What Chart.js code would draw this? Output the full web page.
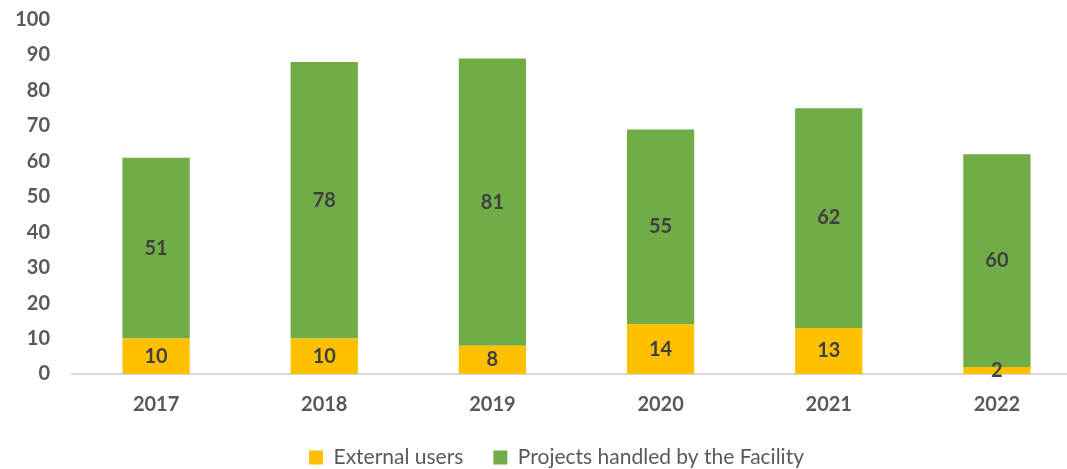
<!DOCTYPE html>
<html>
<head>
  <title>External users and projects</title>
  <script src="https://cdn.jsdelivr.net/npm/chart.js"></script>
  <style>
    html, body {
      margin: 0;
      padding: 0;
      overflow: hidden;
      background: #fff;
    }
    .chart-container {
      position: relative;
      width: 1114px;
      height: 478px;
    }
  </style>
</head>
<body>
  <div class="chart-container">
    <canvas id="myChart"></canvas>
  </div>
  <script>
    const years = ['2017', '2018', '2019', '2020', '2021', '2022'];
    const externalUsers = [10, 10, 8, 14, 13, 2];
    const projectsHandled = [51, 78, 81, 55, 62, 60];
    const yTicks = [0, 10, 20, 30, 40, 50, 60, 70, 80, 90, 100];

    const fontFamily = 'Lato, "Open Sans", sans-serif';

    // draws the value in the middle of each bar segment
    const barLabels = {
      id: 'barLabels',
      afterDatasetsDraw(chart) {
        const ctx = chart.ctx;
        ctx.save();
        ctx.font = 'bold 20px ' + fontFamily;
        ctx.fillStyle = '#404040';
        ctx.textAlign = 'center';
        ctx.textBaseline = 'middle';
        chart.data.datasets.forEach((ds, i) => {
          chart.getDatasetMeta(i).data.forEach((bar, j) => {
            const mid = (bar.y + bar.base) / 2;
            ctx.fillText(String(ds.data[j]), bar.x, mid);
          });
        });
        ctx.restore();
      }
    };

    // the legend sits centred under the whole picture, not the left part
    const legendShift = {
      id: 'legendShift',
      afterLayout(chart) {
        chart.legend.left += 16;
        chart.legend.right += 16;
      }
    };

    const ctx = document.getElementById('myChart').getContext('2d');
    const chart = new Chart(ctx, {
      type: 'bar',
      data: {
        labels: years,
        datasets: [
          {
            label: 'External users',
            data: externalUsers,
            backgroundColor: '#FFC000'
          },
          {
            label: 'Projects handled by the Facility',
            data: projectsHandled,
            backgroundColor: '#70AD47'
          }
        ]
      },
      options: {
        responsive: true,
        maintainAspectRatio: false,
        animation: false,
        categoryPercentage: 1,
        barPercentage: 0.4,
        layout: {
          padding: { top: 19.5, right: 33, left: 0, bottom: 0 }
        },
        plugins: {
          tooltip: { enabled: false },
          legend: {
            position: 'bottom',
            labels: {
              boxWidth: 14,
              boxHeight: 14,
              padding: 30,
              color: '#595959',
              font: { family: fontFamily, size: 21 }
            }
          }
        },
        scales: {
          x: {
            stacked: true,
            afterFit(scale) {
              scale.height = 43;
            },
            grid: { display: false, drawTicks: false },
            border: { display: true, color: '#D9D9D9', width: 2 },
            ticks: {
              color: '#595959',
              padding: 19,
              font: { family: fontFamily, size: 20, weight: 'bold' }
            }
          },
          y: {
            stacked: true,
            min: 0,
            max: 100,
            afterBuildTicks(scale) {
              scale.ticks = yTicks.map(v => ({ value: v }));
            },
            afterFit(scale) {
              scale.width = 72;
              scale.paddingTop = 0;
              scale.paddingBottom = 0;
            },
            grid: { display: false, drawTicks: false },
            border: { display: false },
            ticks: {
              color: '#595959',
              padding: 22,
              font: { family: fontFamily, size: 20, weight: 'bold' }
            }
          }
        }
      },
      plugins: [barLabels, legendShift]
    });
  </script>
</body>
</html>
